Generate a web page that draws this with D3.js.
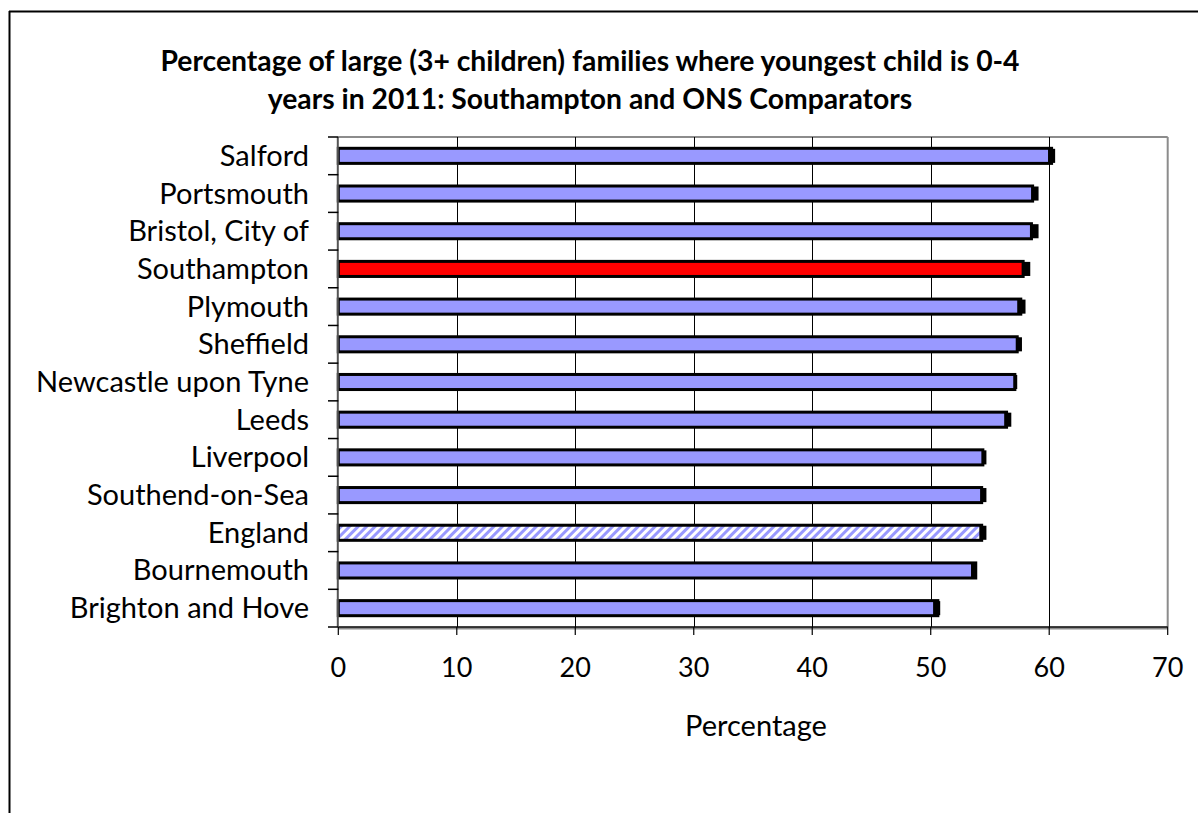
<!DOCTYPE html>
<html><head><meta charset="utf-8">
<script src="https://cdn.jsdelivr.net/npm/d3@7"></script>
<style>body{margin:0;background:#fff}</style>
</head><body>
<svg id="c" width="1198" height="813"></svg>
<script>
const categories = ["Salford","Portsmouth","Bristol, City of","Southampton","Plymouth","Sheffield","Newcastle upon Tyne","Leeds","Liverpool","Southend-on-Sea","England","Bournemouth","Brighton and Hove"];
const values = [60.2, 58.6, 58.5, 57.8, 57.6, 57.3, 57.1, 56.4, 54.4, 54.3, 54.3, 53.8, 50.6];
const lower  = [59.9, 58.5, 58.4, 57.7, 57.3, 57.2, 57.0, 56.2, 54.4, 54.2, 54.1, 53.4, 50.2];
const upper  = [60.5, 59.1, 59.1, 58.4, 58.0, 57.7, 57.3, 56.8, 54.7, 54.7, 54.7, 53.8, 50.8];
const highlight = "Southampton";
const comparator = "England";
const xTicks = [0,10,20,30,40,50,60,70];
const titleLines = ["Percentage of large (3+ children) families where youngest child is 0-4","years in 2011: Southampton and ONS Comparators"];
const xLabel = "Percentage";

const svg = d3.select("#c");
const pL = 338.3, pR = 1167.7, pT = 137, pB = 627;
const x = d3.scaleLinear().domain([0,70]).range([pL,pR]);
const y = d3.scaleBand().domain(categories).range([pT,pB]).paddingInner(0.6).paddingOuter(0.3);
const step = y.step();

// hatch pattern
const defs = svg.append("defs");
const pat = defs.append("pattern").attr("id","hatch").attr("patternUnits","userSpaceOnUse")
  .attr("width",6).attr("height",6).attr("patternTransform","rotate(45)");
pat.append("rect").attr("width",6).attr("height",6).attr("fill","#fff");
pat.append("rect").attr("width",3).attr("height",6).attr("fill","#9999ff");

// outer frame
svg.append("line").attr("x1",9).attr("x2",1198).attr("y1",11.5).attr("y2",11.5).attr("stroke","#000").attr("stroke-width",2);
svg.append("line").attr("x1",9.5).attr("x2",9.5).attr("y1",11).attr("y2",813).attr("stroke","#000").attr("stroke-width",2);

// title
const title = svg.append("text").attr("text-anchor","middle").attr("font-family","Lato").attr("font-weight","bold")
  .attr("font-size",28.3).attr("fill","#000");
titleLines.forEach((t,i)=> title.append("tspan").attr("x",590).attr("y",71+i*38).text(t));

// plot border
svg.append("line").attr("x1",pL).attr("x2",pR).attr("y1",pT).attr("y2",pT).attr("stroke","#8c8c8c").attr("stroke-width",2);
svg.append("line").attr("x1",pR).attr("x2",pR).attr("y1",pT).attr("y2",pB).attr("stroke","#8c8c8c").attr("stroke-width",2);

// gridlines
svg.append("g").selectAll("line").data(xTicks.filter(d=>d>0 && d<70)).join("line")
  .attr("x1",d=>Math.round(x(d))+0.5).attr("x2",d=>Math.round(x(d))+0.5).attr("y1",pT).attr("y2",pB)
  .attr("stroke","#000").attr("stroke-width",1);

// bars
svg.append("g").selectAll("rect").data(categories).join("rect")
  .attr("x",x(0)).attr("y",d=>y(d)).attr("width",(d,i)=>x(values[i])-x(0)).attr("height",y.bandwidth())
  .attr("fill",d=> d===highlight ? "#ff0000" : d===comparator ? "url(#hatch)" : "#9999ff")
  .attr("stroke","#000").attr("stroke-width",3);

// error caps
svg.append("g").selectAll("rect").data(categories).join("rect")
  .attr("x",(d,i)=>x(lower[i])).attr("y",d=>y(d)+0.5).attr("width",(d,i)=>Math.max(3,x(upper[i])-x(lower[i])))
  .attr("height",y.bandwidth()-1).attr("fill","#000");

// axes lines
svg.append("line").attr("x1",pL).attr("x2",pR).attr("y1",pB+1.5).attr("y2",pB+1.5).attr("stroke","#8c8c8c").attr("stroke-width",2);
svg.append("line").attr("x1",pL).attr("x2",pR).attr("y1",pB).attr("y2",pB).attr("stroke","#000").attr("stroke-width",1.5);
svg.append("line").attr("x1",pL-0.5).attr("x2",pL-0.5).attr("y1",pT).attr("y2",pB).attr("stroke","#555").attr("stroke-width",2);

// y ticks at band boundaries
svg.append("g").selectAll("line").data(d3.range(categories.length+1)).join("line")
  .attr("x1",328).attr("x2",pL).attr("y1",i=>pT+i*step).attr("y2",i=>pT+i*step)
  .attr("stroke","#000").attr("stroke-width",1.5);
// x ticks
svg.append("g").selectAll("line").data(xTicks).join("line")
  .attr("x1",d=>x(d)).attr("x2",d=>x(d)).attr("y1",pB).attr("y2",pB+8)
  .attr("stroke","#000").attr("stroke-width",1.2);

// y labels
svg.append("g").selectAll("text").data(categories).join("text")
  .attr("x",309).attr("y",d=>y(d)+y.bandwidth()/2+10).attr("text-anchor","end")
  .attr("font-family","Lato").attr("font-size",29).attr("fill","#000").text(d=>d);

// x labels
svg.append("g").selectAll("text").data(xTicks).join("text")
  .attr("x",d=>x(d)).attr("y",677).attr("text-anchor","middle")
  .attr("font-family","Lato").attr("font-size",27).attr("fill","#000").text(d=>d);

svg.append("text").attr("x",756).attr("y",736).attr("text-anchor","middle")
  .attr("font-family","Lato").attr("font-size",29).attr("fill","#000").text(xLabel);
</script>
</body></html>
